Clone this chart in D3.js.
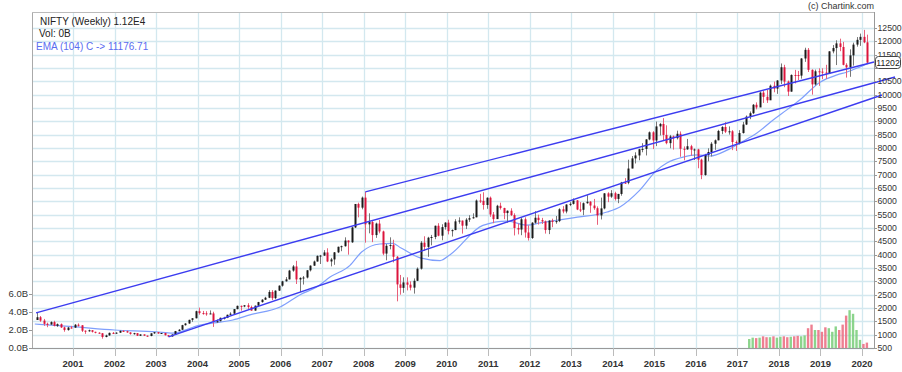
<!DOCTYPE html>
<html><head><meta charset="utf-8">
<script src="https://cdn.jsdelivr.net/npm/d3@7"></script>
<style>
html,body{margin:0;padding:0;background:#fff;}
svg{display:block;font-family:"Liberation Sans",Arial,sans-serif;}
</style></head><body>
<svg id="chart" width="902" height="372"></svg>
<script>
// Monthly OHLC: [month, open, high, low, close]
const priceBars = [
["2000-02",1550,1818,1550,1654],["2000-03",1654,1700,1480,1528],["2000-04",1528,1590,1330,1407],["2000-05",1407,1450,1280,1381],["2000-06",1381,1500,1370,1471],["2000-07",1471,1520,1310,1332],["2000-08",1332,1420,1290,1394],["2000-09",1394,1420,1250,1271],["2000-10",1271,1300,1110,1173],["2000-11",1173,1290,1150,1268],["2000-12",1268,1330,1230,1264],
["2001-01",1264,1400,1250,1372],["2001-02",1372,1422,1300,1352],["2001-03",1352,1360,1100,1148],["2001-04",1148,1160,1030,1126],["2001-05",1126,1190,1110,1167],["2001-06",1167,1170,1080,1107],["2001-07",1107,1110,1050,1073],["2001-08",1073,1090,1040,1053],["2001-09",1053,1060,850,913],["2001-10",913,1000,900,972],["2001-11",972,1080,960,1067],["2001-12",1067,1100,1030,1059],
["2002-01",1059,1090,1030,1075],["2002-02",1075,1160,1070,1142],["2002-03",1142,1170,1120,1129],["2002-04",1129,1150,1070,1084],["2002-05",1084,1090,1000,1028],["2002-06",1028,1070,1000,1057],["2002-07",1057,1060,950,959],["2002-08",959,1010,950,1010],["2002-09",1010,1010,950,963],["2002-10",963,970,920,951],["2002-11",951,1050,940,1050],["2002-12",1050,1100,1030,1093],
["2003-01",1093,1100,1040,1041],["2003-02",1041,1060,1030,1063],["2003-03",1063,1070,970,978],["2003-04",978,990,920,934],["2003-05",934,1010,925,1006],["2003-06",1006,1140,1000,1134],["2003-07",1134,1210,1130,1185],["2003-08",1185,1370,1180,1356],["2003-09",1356,1430,1340,1418],["2003-10",1418,1560,1410,1556],["2003-11",1556,1620,1480,1615],["2003-12",1615,1900,1610,1880],
["2004-01",1880,2015,1750,1810],["2004-02",1810,1890,1750,1800],["2004-03",1800,1880,1710,1772],["2004-04",1772,1910,1770,1796],["2004-05",1796,1860,1290,1484],["2004-06",1484,1570,1440,1506],["2004-07",1506,1640,1500,1632],["2004-08",1632,1670,1570,1632],["2004-09",1632,1750,1620,1746],["2004-10",1746,1840,1740,1786],["2004-11",1786,1960,1780,1959],["2004-12",1959,2090,1950,2081],
["2005-01",2081,2090,1900,2057],["2005-02",2057,2110,2030,2103],["2005-03",2103,2180,1960,2036],["2005-04",2036,2090,1900,1902],["2005-05",1902,2090,1900,2087],["2005-06",2087,2230,2080,2221],["2005-07",2221,2330,2200,2312],["2005-08",2312,2420,2300,2385],["2005-09",2385,2670,2370,2601],["2005-10",2601,2670,2300,2370],["2005-11",2370,2660,2330,2652],["2005-12",2652,2850,2640,2837],
["2006-01",2837,3020,2800,3001],["2006-02",3001,3160,2990,3074],["2006-03",3074,3430,3070,3403],["2006-04",3403,3610,3360,3558],["2006-05",3558,3770,2900,3071],["2006-06",3071,3150,2600,3128],["2006-07",3128,3200,2880,3143],["2006-08",3143,3420,3110,3414],["2006-09",3414,3600,3370,3588],["2006-10",3588,3780,3580,3744],["2006-11",3744,3970,3740,3955],["2006-12",3955,3990,3650,3966],
["2007-01",3966,4170,3950,4083],["2007-02",4083,4240,3720,3745],["2007-03",3745,3880,3560,3822],["2007-04",3822,4100,3620,4087],["2007-05",4087,4300,4060,4296],["2007-06",4296,4340,4130,4318],["2007-07",4318,4650,4300,4529],["2007-08",4529,4540,4000,4464],["2007-09",4464,5050,4440,5021],["2007-10",5021,5900,5000,5901],["2007-11",5901,5950,5400,5763],["2007-12",5763,6180,5700,6139],
["2008-01",6139,6357,4450,5137],["2008-02",5137,5550,4800,5224],["2008-03",5224,5270,4470,4735],["2008-04",4735,5200,4630,5166],["2008-05",5166,5300,4800,4870],["2008-06",4870,4900,3980,4041],["2008-07",4041,4400,3790,4333],["2008-08",4333,4650,4200,4360],["2008-09",4360,4560,3710,3921],["2008-10",3921,3950,2250,2885],["2008-11",2885,3240,2500,2755],["2008-12",2755,3150,2570,2959],
["2009-01",2959,3150,2660,2874],["2009-02",2874,3000,2660,2763],["2009-03",2763,3110,2540,3021],["2009-04",3021,3520,3010,3474],["2009-05",3474,4510,3440,4449],["2009-06",4449,4690,4140,4291],["2009-07",4291,4670,3920,4636],["2009-08",4636,4740,4350,4662],["2009-09",4662,5090,4580,5084],["2009-10",5084,5180,4690,4712],["2009-11",4712,5140,4540,5033],["2009-12",5033,5220,4940,5201],
["2010-01",5201,5310,4760,4882],["2010-02",4882,4950,4680,4922],["2010-03",4922,5330,4920,5249],["2010-04",5249,5400,5160,5278],["2010-05",5278,5280,4790,5087],["2010-06",5087,5370,4960,5313],["2010-07",5313,5480,5230,5368],["2010-08",5368,5550,5350,5402],["2010-09",5402,6070,5400,6030],["2010-10",6030,6280,5940,6018],["2010-11",6018,6340,5690,5863],["2010-12",5863,6150,5720,6135],
["2011-01",6135,6180,5420,5506],["2011-02",5506,5600,5180,5333],["2011-03",5333,5870,5350,5834],["2011-04",5834,5950,5690,5749],["2011-05",5749,5760,5330,5560],["2011-06",5560,5660,5200,5647],["2011-07",5647,5740,5450,5482],["2011-08",5482,5550,4720,5001],["2011-09",5001,5170,4760,4943],["2011-10",4943,5400,4730,5327],["2011-11",5327,5400,4640,4832],["2011-12",4832,5100,4530,4624],
["2012-01",4624,5220,4590,5199],["2012-02",5199,5630,5160,5385],["2012-03",5385,5500,5130,5296],["2012-04",5296,5380,5150,5248],["2012-05",5248,5280,4790,4924],["2012-06",4924,5290,4770,5279],["2012-07",5279,5350,5030,5229],["2012-08",5229,5450,5160,5259],["2012-09",5259,5740,5220,5703],["2012-10",5703,5820,5550,5620],["2012-11",5620,5890,5550,5880],["2012-12",5880,5970,5820,5905],
["2013-01",5905,6110,5880,6035],["2013-02",6035,6050,5670,5693],["2013-03",5693,5970,5600,5683],["2013-04",5683,5960,5480,5930],["2013-05",5930,6230,5910,5986],["2013-06",5986,6010,5570,5842],["2013-07",5842,6090,5680,5742],["2013-08",5742,5810,5120,5471],["2013-09",5471,6140,5320,5735],["2013-10",5735,6310,5700,6299],["2013-11",6299,6340,5970,6176],["2013-12",6176,6420,6130,6304],
["2014-01",6304,6360,6030,6090],["2014-02",6090,6280,5930,6277],["2014-03",6277,6730,6210,6704],["2014-04",6704,6870,6650,6696],["2014-05",6696,7560,6640,7230],["2014-06",7230,7700,7240,7611],["2014-07",7611,7840,7420,7721],["2014-08",7721,7970,7540,7954],["2014-09",7954,8180,7840,7965],["2014-10",7965,8330,7720,8322],["2014-11",8322,8620,8290,8588],["2014-12",8588,8630,7960,8283],
["2015-01",8283,8990,8070,8809],["2015-02",8809,8940,8470,8902],["2015-03",8902,9120,8270,8491],["2015-04",8491,8850,8140,8182],["2015-05",8182,8490,7990,8434],["2015-06",8434,8470,7940,8369],["2015-07",8369,8650,8320,8533],["2015-08",8533,8620,7670,7971],["2015-09",7971,8060,7540,7949],["2015-10",7949,8340,7930,8066],["2015-11",8066,8120,7710,7935],["2015-12",7935,7980,7550,7946],
["2016-01",7946,7970,7240,7564],["2016-02",7564,7600,6830,6987],["2016-03",6987,7780,6960,7738],["2016-04",7738,7990,7500,7850],["2016-05",7850,8220,7680,8160],["2016-06",8160,8320,7930,8288],["2016-07",8288,8680,8290,8639],["2016-08",8639,8820,8520,8786],["2016-09",8786,8970,8560,8611],["2016-10",8611,8810,8500,8626],["2016-11",8626,8670,7920,8224],["2016-12",8224,8280,7890,8186],
["2017-01",8186,8670,8130,8561],["2017-02",8561,8980,8540,8880],["2017-03",8880,9220,8860,9174],["2017-04",9174,9370,9080,9304],["2017-05",9304,9650,9270,9621],["2017-06",9621,9710,9450,9521],["2017-07",9521,10120,9540,10077],["2017-08",10077,10140,9690,9918],["2017-09",9918,10180,9690,9789],["2017-10",9789,10380,9830,10335],["2017-11",10335,10490,10090,10227],["2017-12",10227,10550,10030,10531],
["2018-01",10531,11170,10400,11028],["2018-02",11028,11120,10280,10493],["2018-03",10493,10530,9950,10114],["2018-04",10114,10760,10110,10739],["2018-05",10739,10930,10420,10736],["2018-06",10736,10890,10550,10714],["2018-07",10714,11370,10600,11357],["2018-08",11357,11760,11230,11681],["2018-09",11681,11750,10850,10930],["2018-10",10930,10950,10000,10386],["2018-11",10386,10940,10340,10877],["2018-12",10877,10990,10330,10863],
["2019-01",10863,10990,10580,10831],["2019-02",10831,11120,10590,10793],["2019-03",10793,11630,10820,11624],["2019-04",11624,11860,11550,11748],["2019-05",11748,12040,11110,11923],["2019-06",11923,12100,11630,11789],["2019-07",11789,11980,11100,11118],["2019-08",11118,11180,10640,11023],["2019-09",11023,11700,10670,11474],["2019-10",11474,11950,11090,11877],["2019-11",11877,12160,11800,12056],["2019-12",12056,12290,11830,12168],
["2020-01",12168,12430,11930,11962],["2020-02",11962,12250,11170,11202]
];

// Volume (billions)
const volumeBars = [
["2017-04",1.0],["2017-05",1.15],["2017-06",1.1],["2017-07",1.15],["2017-08",1.3],["2017-09",1.2],["2017-10",1.2],["2017-11",1.3],["2017-12",1.15],
["2018-01",1.25],["2018-02",1.3],["2018-03",1.2],["2018-04",1.25],["2018-05",1.3],["2018-06",1.35],["2018-07",1.3],["2018-08",1.4],["2018-09",2.2],["2018-10",2.6],["2018-11",2.0],["2018-12",2.0],
["2019-01",1.8],["2019-02",2.3],["2019-03",2.2],["2019-04",1.8],["2019-05",2.4],["2019-06",2.0],["2019-07",2.6],["2019-08",3.6],["2019-09",4.2],["2019-10",3.8],["2019-11",2.0],["2019-12",0.9],
["2020-01",0.45],["2020-02",0.6]
];

// EMA(104) values: [decimal year, value]
const emaPoints = [
[2000.08,1400],[2001.0,1300],[2002.0,1175],[2003.0,1110],[2003.4,1060],[2004.06,1360],[2004.4,1440],[2004.85,1550],[2005.26,1740],[2006.0,2050],[2006.47,2500],[2006.88,2800],[2007.19,3160],[2007.67,3600],[2007.95,4100],[2008.39,4400],[2008.7,4420],[2008.9,4250],[2009.36,3880],[2009.84,3780],[2010.08,4000],[2010.87,5100],[2011.45,5260],[2011.93,5110],[2012.25,5190],[2013.04,5380],[2013.86,5600],[2014.17,5790],[2014.65,6420],[2015.06,7170],[2015.3,7440],[2015.69,7660],[2016.03,7740],[2016.34,7700],[2016.75,7920],[2017.06,8190],[2017.47,8560],[2017.86,9050],[2018.19,9430],[2018.5,9800],[2018.99,10470],[2019.4,10740],[2019.64,10850],[2019.95,11040],[2020.16,11177]
];

// Trend lines drawn on the chart: [[year, price],[year, price]]
const trendLines = [
[[2000.11,1818],[2020.795,10662]],
[[2003.30,920],[2020.48,9987]],
[[2008.04,6357],[2020.29,11225]]
];

const yearTicks = d3.range(2001, 2021);
const priceTicks = d3.range(500, 13000, 500);
const volumeTicks = [0, 2, 4, 6];
const legendLines = ["NIFTY (Weekly) 1.12E4", "Vol: 0B", "EMA (104) C -> 11176.71"];
const lastPrice = "11202";

const svg = d3.select("#chart");
const L = 32, R = 874, T = 12, B = 348;
const x = d3.scaleLinear().domain([2001, 2020]).range([73, 862]);
const y = d3.scaleLinear().domain([500, 12500]).range([348, 28]);
const yVol = d3.scaleLinear().domain([0, 6]).range([348, 294]);
const t = m => { const [yy, mm] = m.split("-").map(Number); return yy + (mm - 1) / 12 + 0.5 / 12; };

// grid
const grid = svg.append("g");
grid.selectAll("line.h").data(priceTicks).join("line")
  .attr("x1", L).attr("x2", R).attr("y1", d => Math.round(y(d)) + 0.5).attr("y2", d => Math.round(y(d)) + 0.5)
  .attr("stroke", "#d3e8ef").attr("stroke-width", 1.3);
grid.selectAll("line.v").data(yearTicks).join("line")
  .attr("x1", d => Math.round(x(d)) + 0.5).attr("x2", d => Math.round(x(d)) + 0.5).attr("y1", T).attr("y2", B)
  .attr("stroke", "#d3e8ef").attr("stroke-width", 1.3);

// frame
svg.append("line").attr("x1", L + 0.5).attr("x2", L + 0.5).attr("y1", T).attr("y2", B).attr("stroke", "#aaa");
svg.append("line").attr("x1", L).attr("x2", R).attr("y1", T + 0.5).attr("y2", T + 0.5).attr("stroke", "#bbb");
svg.append("line").attr("x1", R + 0.5).attr("x2", R + 0.5).attr("y1", T).attr("y2", B).attr("stroke", "#999");
svg.append("line").attr("x1", L).attr("x2", R).attr("y1", B + 0.5).attr("y2", B + 0.5).attr("stroke", "#999");

// volume bars
const dirOf = {};
priceBars.forEach(d => dirOf[d[0]] = d[4] >= d[1]);
svg.append("g").selectAll("rect").data(volumeBars).join("rect")
  .attr("x", d => x(t(d[0])) - 1.5).attr("width", 2.4)
  .attr("y", d => yVol(d[1])).attr("height", d => yVol(0) - yVol(d[1]))
  .attr("fill", d => dirOf[d[0]] ? "#7fcf7f" : "#ec7185").attr("opacity", 0.9);

// EMA
svg.append("path").datum(emaPoints)
  .attr("d", d3.line().x(d => x(d[0])).y(d => y(d[1])).curve(d3.curveMonotoneX))
  .attr("fill", "none").attr("stroke", "#7f9ffc").attr("stroke-width", 1.2);

// candles
const cg = svg.append("g");
const col = d => d[4] >= d[1] ? "#1a1a1a" : "#dc143c";
cg.selectAll("line").data(priceBars).join("line")
  .attr("x1", d => Math.round(x(t(d[0]))) + 0.5).attr("x2", d => Math.round(x(t(d[0]))) + 0.5)
  .attr("y1", d => y(d[2])).attr("y2", d => y(d[3]))
  .attr("stroke", d => d[4] >= d[1] ? "#777" : "#e8607a").attr("stroke-width", 1);
cg.selectAll("rect").data(priceBars).join("rect")
  .attr("x", d => Math.round(x(t(d[0]))) - 0.5).attr("width", 2)
  .attr("y", d => y(Math.max(d[1], d[4]))).attr("height", d => Math.max(1, Math.abs(y(d[1]) - y(d[4]))))
  .attr("fill", col);

// trend lines
svg.append("g").selectAll("line").data(trendLines).join("line")
  .attr("x1", d => x(d[0][0])).attr("y1", d => y(d[0][1]))
  .attr("x2", d => x(d[1][0])).attr("y2", d => y(d[1][1]))
  .attr("stroke", "#3c3cf0").attr("stroke-width", 1.4);

// right price axis
const ra = svg.append("g");
ra.selectAll("line").data(priceTicks).join("line")
  .attr("x1", R).attr("x2", R + 3).attr("y1", d => Math.round(y(d)) + 0.5).attr("y2", d => Math.round(y(d)) + 0.5).attr("stroke", "#999");
ra.selectAll("text").data(priceTicks.filter(d => d !== 11000)).join("text")
  .attr("x", 877.5).attr("y", d => y(d)).attr("dy", "0.35em")
  .attr("font-size", 8.7).attr("fill", "#333").text(d => d);

// left volume axis
const la = svg.append("g");
la.selectAll("line").data(volumeTicks).join("line")
  .attr("x1", L - 3).attr("x2", L).attr("y1", d => Math.round(yVol(d)) + 0.5).attr("y2", d => Math.round(yVol(d)) + 0.5).attr("stroke", "#999");
la.selectAll("text").data(volumeTicks).join("text")
  .attr("x", 28).attr("y", d => yVol(d)).attr("dy", "0.35em").attr("text-anchor", "end")
  .attr("font-size", 9.5).attr("fill", "#333").text(d => d.toFixed(1) + "B");

// bottom year axis
const ba = svg.append("g");
ba.selectAll("line").data(yearTicks).join("line")
  .attr("x1", d => Math.round(x(d)) + 0.5).attr("x2", d => Math.round(x(d)) + 0.5).attr("y1", B).attr("y2", B + 8).attr("stroke", "#bbb");
ba.selectAll("text").data(yearTicks).join("text")
  .attr("x", d => x(d)).attr("y", 367).attr("text-anchor", "middle")
  .attr("font-size", 9.5).attr("font-weight", "bold").attr("fill", "#333").text(d => d);

// last price box
svg.append("rect").attr("x", 875.5).attr("y", 56.5).attr("width", 25).attr("height", 12).attr("rx", 3)
  .attr("fill", "#fff").attr("stroke", "#444");
svg.append("text").attr("x", 888).attr("y", 62.5).attr("dy", "0.35em").attr("text-anchor", "middle")
  .attr("font-size", 8.7).attr("fill", "#222").text(lastPrice);

// legend
svg.append("text").attr("x", 40).attr("y", 25).attr("font-size", 10).attr("fill", "#222").text(legendLines[0]);
svg.append("text").attr("x", 39).attr("y", 37).attr("font-size", 10).attr("fill", "#222").text(legendLines[1]);
svg.append("text").attr("x", 36).attr("y", 50).attr("font-size", 10).attr("fill", "#5a6cf0").text(legendLines[2]);

// copyright
svg.append("text").attr("x", 874).attr("y", 9).attr("text-anchor", "end")
  .attr("font-size", 9).attr("fill", "#333").text("(c) Chartink.com");
</script>
</body></html>
